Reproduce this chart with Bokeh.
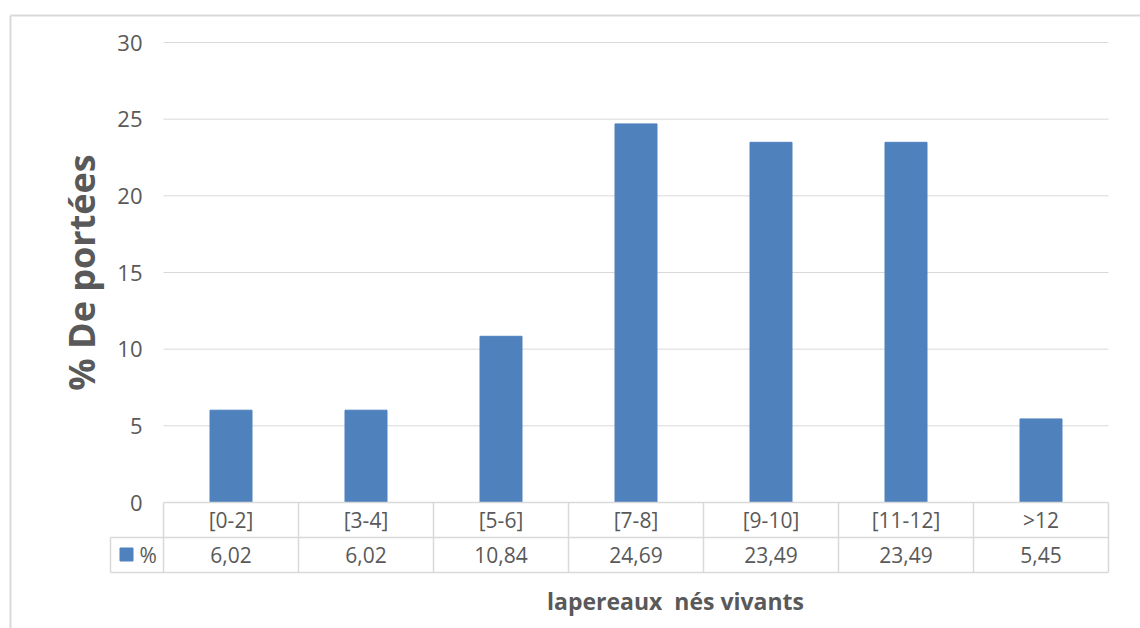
import math
from bokeh.plotting import figure
from bokeh.models import Range1d
from bokeh.core.properties import value
from bokeh.embed import file_html
from bokeh.resources import INLINE

# Litter-size classes and share of litters (%)
categories = ["[0-2]", "[3-4]", "[5-6]", "[7-8]", "[9-10]", "[11-12]", ">12"]
percent = [6.02, 6.02, 10.84, 24.69, 23.49, 23.49, 5.45]
y_ticks = [0, 5, 10, 15, 20, 25, 30]
series_name = "%"
y_title = "% De portées"
x_title = "lapereaux\u00a0 nés vivants"

# Canvas and plot-area geometry (pixels)
W, H = 1140, 628
PLOT_L, PLOT_R, PLOT_T, PLOT_B = 163, 1108, 42, 502
ROW1_B, ROW2_B = 537, 572
LEGEND_L = 110
Y_MAX = y_ticks[-1]
n = len(categories)
px_per_x = (PLOT_R - PLOT_L) / n
px_per_y = (PLOT_B - PLOT_T) / Y_MAX


def dx(px):
    return (px - PLOT_L) / px_per_x


def dy(py):
    return (PLOT_B - py) / px_per_y


BAR = "#4f81bd"
TEXT = "#595959"
LINE = "#d9d9d9"
FONT = value("Open Sans")

p = figure(width=W, height=H,
           x_range=Range1d(dx(0), dx(W)), y_range=Range1d(dy(H), dy(0)),
           x_axis_type=None, y_axis_type=None,
           toolbar_location=None, output_backend="svg", min_border=0)
p.outline_line_color = None
p.background_fill_color = "white"
p.border_fill_color = "white"

# chart border (top and left edges)
p.segment(x0=[dx(10), dx(10)], y0=[dy(15), dy(15)],
          x1=[dx(W), dx(10)], y1=[dy(15), dy(H)],
          line_color=LINE, line_width=2)

# horizontal gridlines
grid = [t for t in y_ticks if t > 0]
p.segment(x0=[0] * len(grid), y0=grid, x1=[n] * len(grid), y1=grid,
          line_color=LINE, line_width=1)

# bars
xs = [i + 0.5 for i in range(n)]
p.vbar(x=xs, top=percent, width=42 / px_per_x, bottom=0,
       fill_color=BAR, line_color=BAR)

# y tick labels
p.text(x=[dx(142)] * len(y_ticks), y=y_ticks, text=[str(t) for t in y_ticks],
       text_font=FONT, text_font_size=value("22px"), text_color=TEXT,
       text_align="right", text_baseline="middle")

# data table: borders
hx0 = [0, dx(LEGEND_L), dx(LEGEND_L)]
hy = [0, dy(ROW1_B), dy(ROW2_B)]
p.segment(x0=hx0, y0=hy, x1=[n] * 3, y1=hy, line_color=LINE, line_width=1.5)
vx = list(range(n + 1))
p.segment(x0=vx, y0=[0] * len(vx), x1=vx, y1=[dy(ROW2_B)] * len(vx),
          line_color=LINE, line_width=1.5)
p.segment(x0=[dx(LEGEND_L)], y0=[dy(ROW1_B)], x1=[dx(LEGEND_L)], y1=[dy(ROW2_B)],
          line_color=LINE, line_width=1.5)

# data table: category row and value row
p.text(x=xs, y=[dy((PLOT_B + ROW1_B) / 2)] * n, text=categories,
       text_font=FONT, text_font_size=value("21px"), text_color=TEXT,
       text_align="center", text_baseline="middle")
p.text(x=xs, y=[dy((ROW1_B + ROW2_B) / 2)] * n,
       text=[f"{v:.2f}".replace(".", ",") for v in percent],
       text_font=FONT, text_font_size=value("21px"), text_color=TEXT,
       text_align="center", text_baseline="middle")

# legend key in the table
p.scatter(x=[dx(126)], y=[dy(554)], marker="square", size=13,
          fill_color=BAR, line_color=BAR)
p.text(x=[dx(139)], y=[dy(554.5)], text=[series_name],
       text_font=FONT, text_font_size=value("21px"), text_color=TEXT,
       text_align="left", text_baseline="middle")

# axis titles
p.text(x=[dx(81)], y=[dy(272)], text=[y_title], angle=math.pi / 2,
       text_font=FONT, text_font_size=value("36px"), text_font_style="bold",
       text_color=TEXT, text_align="center", text_baseline="middle")
p.text(x=[dx(675)], y=[dy(600)], text=[x_title],
       text_font=FONT, text_font_size=value("23px"), text_font_style="bold",
       text_color=TEXT, text_align="center", text_baseline="middle")

open("out.html", "w").write(file_html(p, INLINE))
